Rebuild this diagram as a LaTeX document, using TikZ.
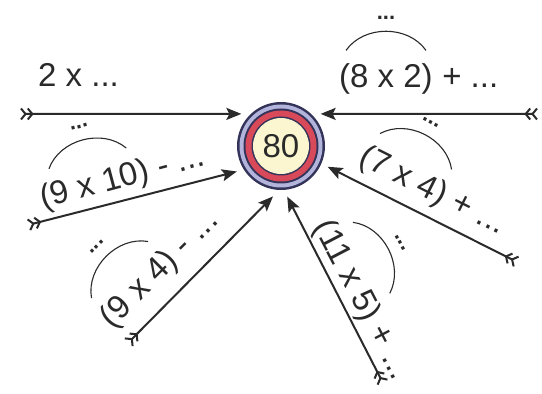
\documentclass[tikz,border=0pt]{standalone}
\usepackage{fontspec}
\setmainfont{Liberation Sans}
\usetikzlibrary{arrows.meta,calc}

\definecolor{ink}{HTML}{2A2A2A}
\definecolor{hubnavy}{HTML}{34345A}
\definecolor{hublilac}{HTML}{B3B4DC}
\definecolor{hubred}{HTML}{D8495A}
\definecolor{hubcream}{HTML}{FCF6D0}

\tikzset{
  term/.style={inner sep=0pt, text=ink, font=\fontsize{33}{36}\selectfont},
  mini/.style={inner sep=0pt, text=ink, font=\bfseries\fontsize{22}{24}\selectfont},
  brow/.style={ink, line width=1.1pt},
  hub/.style={circle, minimum size=88pt, inner sep=0pt, outer sep=7pt, text=ink,
    font=\fontsize{33}{36}\selectfont},
  shaft/.style={ink, line width=2pt,
    arrows={Straight Barb[reversed,length=4.5pt,width=11pt]Straight Barb[reversed,length=4.5pt,width=11pt]-Stealth[length=15pt,width=12pt,inset=3pt]}}
}

% bracketed term with an arc and dots over it
\newcommand{\bracetag}[3]{%
  \node[term] (#1) {#2};
  \node[term, anchor=base west] (#1t) at (#1.base east) {\ #3};
  \draw[brow] ($(#1.north)+(-40,13)$) to[bend left=55] ($(#1.north)+(40,13)$);
  \node[mini, anchor=base] (#1d) at ($(#1.north)+(0,44)$) {...};
}

\begin{document}
\begin{tikzpicture}[x=1pt, y=1pt]
  \fill[white] (0,0) rectangle (542,394);
  \useasboundingbox (0,0) rectangle (542,394);
  % target
  \coordinate (mid) at (281,248);
  \fill[hubnavy] (mid) circle (44);
  \fill[hublilac] (mid) circle (41.5);
  \fill[hubnavy] (mid) circle (37.5);
  \fill[hubred] (mid) circle (35.5);
  \fill[hubnavy] (mid) circle (29.5);
  \fill[hubcream] (mid) circle (28);
  \node[hub] (hub) at (mid) {80};
  % arrows
  \coordinate (tail1) at (20,280);
  \coordinate (tail2) at (538,280);
  \coordinate (tail3) at (28,169);
  \coordinate (tail4) at (128,51);
  \coordinate (tail5) at (383,11);
  \coordinate (tail6) at (517,132);
  \draw[shaft] (tail1) -- (hub.141);
  \draw[shaft] (tail2) -- (hub.39);
  \draw[shaft] (tail3) -- (hub.210);
  \draw[shaft] (tail4) -- (hub.261);
  \draw[shaft] (tail5) -- (hub.277);
  \draw[shaft] (tail6) -- (hub.336);
  % labels
  \node[term, anchor=base west] (lab1) at (38,307) {2 x ...};
  \begin{scope}[shift={(386,315)}, transform shape]
    \bracetag{lab2}{(8 x 2)}{+ ...}
  \end{scope}
  \begin{scope}[shift={(95,208)}, rotate=15, transform shape]
    \bracetag{lab3}{(9 x 10)}{- ...}
  \end{scope}
  \begin{scope}[shift={(140,104)}, rotate=45, transform shape]
    \bracetag{lab4}{(9 x 4)}{- ...}
  \end{scope}
  \begin{scope}[shift={(346,123)}, rotate=-62.5, transform shape]
    \bracetag{lab5}{(11 x 5)}{+ ...}
  \end{scope}
  \begin{scope}[shift={(403,217)}, rotate=-26.7, transform shape]
    \bracetag{lab6}{(7 x 4)}{+ ...}
  \end{scope}
\end{tikzpicture}
\end{document}
